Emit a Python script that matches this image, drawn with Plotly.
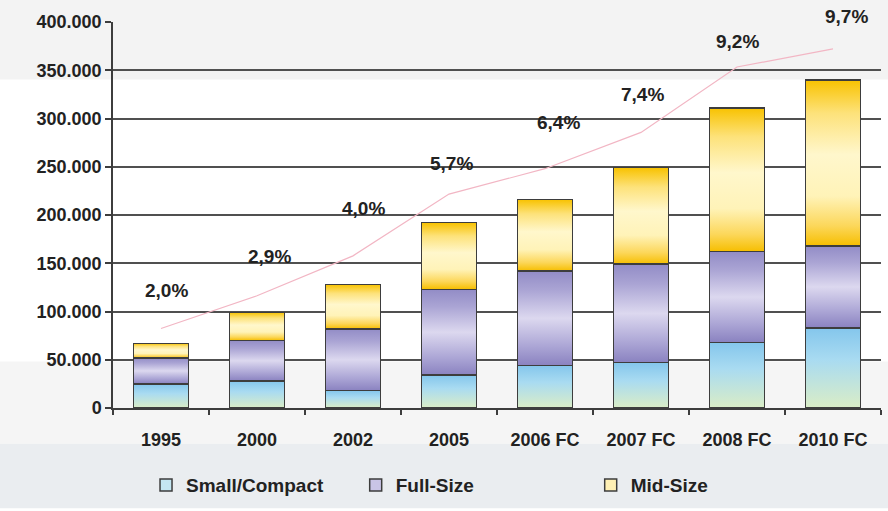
import json
import plotly.graph_objects as go

# ---- data -------------------------------------------------------------
years = ["1995", "2000", "2002", "2005", "2006 FC", "2007 FC", "2008 FC", "2010 FC"]
small_compact = [25000, 28000, 18000, 34000, 44000, 47000, 68000, 83000]
full_size = [27000, 42000, 64000, 89000, 98000, 102000, 94000, 85000]
mid_size = [15000, 29000, 46000, 69000, 74000, 100000, 149000, 172000]
share_pct = [2.0, 2.9, 4.0, 5.7, 6.4, 7.4, 9.2, 9.7]

# ---- styling ------------------------------------------------------------
FONT = "Liberation Sans, Arial, sans-serif"
TXT = "#222222"
EDGE = "#3d3d3d"
series = [
    ("Small/Compact", small_compact, "#c4e6f2"),
    ("Full-Size", full_size, "#c9c4e6"),
    ("Mid-Size", mid_size, "#fff0b4"),
]
# vertical fills for each stacked segment (top -> bottom)
gradients = [
    [[0, "#84c6ec"], [0.4, "#a9dbf1"], [1, "#daedc6"]],
    [[0, "#928cc6"], [0.2, "#aaa4d4"], [0.5, "#dcd8ef"], [0.8, "#aba5d5"], [1, "#8a82c0"]],
    [[0, "#f8c200"], [0.2, "#fde27a"], [0.45, "#fff7cc"], [0.7, "#fff3b8"], [0.88, "#fcd75a"], [1, "#f6be00"]],
]
legend_x = [0.043, 0.316, 0.622]
# label nudges for the share labels (px)
label_dx = [5, 12, 10, 2, 13, 1, 0, 13]
label_dy = [38, 39, 47, 31, 46, 38, 26, 32]

fig = go.Figure()

for i, (name, vals, col) in enumerate(series):
    fig.add_trace(go.Bar(
        x=years, y=vals, name=name,
        marker=dict(color=col, line=dict(color=EDGE, width=1.5)),
        legend="legend" if i == 0 else f"legend{i + 1}",
    ))

fig.add_trace(go.Scatter(
    x=years, y=share_pct, yaxis="y2", mode="lines",
    line=dict(color="#f2b6c4", width=1.2), showlegend=False,
))

for i, (v, dx, dy) in enumerate(zip(share_pct, label_dx, label_dy)):
    fig.add_annotation(
        x=i, y=v, xref="x", yref="y2", text=f"{v:.1f}".replace(".", ",") + "%",
        showarrow=False, xshift=dx, yshift=dy,
        font=dict(family=FONT, size=19, color=TXT, weight="bold"),
    )

# background bands
bands = [
    (1.06, 0.851, "#f3f3f3"),
    (0.1205, -0.0923, "#f5f5f5"),
    (-0.0923, -0.26, "#eaedf0"),
]
for y0, y1, c in bands:
    fig.add_shape(type="rect", xref="paper", yref="paper", x0=-0.2, x1=1.1,
                  y0=y1, y1=y0, fillcolor=c, line=dict(width=0), layer="below")

legend_common = dict(
    orientation="h", yanchor="middle", xanchor="left", y=-0.2,
    bgcolor="rgba(0,0,0,0)", itemwidth=30,
    font=dict(family=FONT, size=19, color=TXT, weight="bold"),
)

fig.update_layout(
    width=888, height=511,
    margin=dict(l=113, r=7, t=22, b=99),
    paper_bgcolor="#ffffff", plot_bgcolor="rgba(0,0,0,0)",
    barmode="stack", bargap=0.427,
    separators=",.",
    font=dict(family=FONT, color=TXT),
    xaxis=dict(
        type="category", range=[-0.5, len(years) - 0.5],
        showline=True, linecolor=EDGE, linewidth=1.5,
        ticks="outside", tickson="boundaries", ticklen=5, tickcolor=EDGE, tickwidth=1.5,
        ticklabelstandoff=15,
        tickfont=dict(family=FONT, size=18, color=TXT, weight="bold"),
        showgrid=False,
    ),
    yaxis=dict(
        range=[0, 400000], dtick=50000, tickformat=",d",
        showline=True, linecolor=EDGE, linewidth=1.5,
        ticks="outside", ticklen=6, tickcolor=EDGE, tickwidth=1.5,
        showgrid=True, gridcolor="#505050", gridwidth=1.6, zeroline=False,
        tickfont=dict(family=FONT, size=18, color=TXT, weight="bold"),
    ),
    yaxis2=dict(overlaying="y", side="right", range=[-0.19, 10.44], visible=False),
    legend=dict(x=legend_x[0], **legend_common),
    legend2=dict(x=legend_x[1], **legend_common),
    legend3=dict(x=legend_x[2], **legend_common),
    showlegend=True,
)

# apply the vertical segment fills to the drawn bars
post_js = """
var gd = document.getElementById('{plot_id}');
var NS = 'http://www.w3.org/2000/svg';
var defs = gd.querySelector('svg.main-svg defs');
var grads = GRADS;
grads.forEach(function(stops, i) {
  var lg = document.createElementNS(NS, 'linearGradient');
  lg.setAttribute('id', 'segfill' + i);
  lg.setAttribute('x1', '0'); lg.setAttribute('y1', '0');
  lg.setAttribute('x2', '0'); lg.setAttribute('y2', '1');
  stops.forEach(function(s) {
    var st = document.createElementNS(NS, 'stop');
    st.setAttribute('offset', s[0]);
    st.setAttribute('stop-color', s[1]);
    lg.appendChild(st);
  });
  defs.appendChild(lg);
});
gd.querySelectorAll('.barlayer .trace').forEach(function(tr, i) {
  tr.querySelectorAll('path').forEach(function(p) {
    p.style.fill = 'url(#segfill' + i + ')';
  });
});
""".replace("GRADS", json.dumps(gradients))

fig.write_html("out.html", post_script=post_js)
